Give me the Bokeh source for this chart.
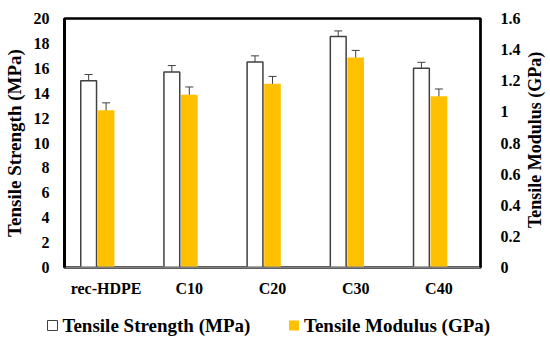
import math
from bokeh.plotting import figure
from bokeh.layouts import column, row
from bokeh.core.properties import value
from bokeh.models import (ColumnDataSource, FactorRange, Range1d, LinearAxis, FixedTicker,
                          Whisker, TeeHead)
from bokeh.transform import dodge
from bokeh.embed import file_html
from bokeh.resources import INLINE

categories = ["rec-HDPE", "C10", "C20", "C30", "C40"]
strength = [15.0, 15.7, 16.5, 18.55, 16.0]
strength_err = [0.5, 0.52, 0.5, 0.45, 0.48]
modulus = [1.01, 1.11, 1.18, 1.35, 1.10]
modulus_err = [0.048, 0.05, 0.048, 0.045, 0.047]
left_ticks = [0, 2, 4, 6, 8, 10, 12, 14, 16, 18, 20]
right_ticks = [0, 0.2, 0.4, 0.6, 0.8, 1.0, 1.2, 1.4, 1.6]
right_tick_labels = ["0", "0.2", "0.4", "0.6", "0.8", "1", "1.2", "1.4", "1.6"]
series_names = ["Tensile Strength (MPa)", "Tensile Modulus (GPa)"]
left_title = "Tensile Strength (MPa)"
right_title = "Tensile Modulus (GPa)"

FONT = "Liberation Serif"
EDGE = "#404040"
GOLD = "#FFC000"

src = ColumnDataSource(dict(
    cats=categories,
    s=strength,
    s_up=[v + e for v, e in zip(strength, strength_err)],
    s_lo=[v - e for v, e in zip(strength, strength_err)],
    m=modulus,
    m_up=[v + e for v, e in zip(modulus, modulus_err)],
    m_lo=[v - e for v, e in zip(modulus, modulus_err)],
))

p = figure(frame_width=416, frame_height=249, output_backend="svg", toolbar_location=None,
           x_range=FactorRange(*categories, range_padding=0),
           y_range=Range1d(0, 20),
           min_border_left=56, min_border_right=39, min_border_top=18, min_border_bottom=30)
p.extra_y_ranges = {"mod": Range1d(0, 1.6)}
p.xgrid.visible = False
p.ygrid.visible = False
p.outline_line_color = "black"
p.outline_line_width = 2.5
p.background_fill_color = "white"
p.border_fill_color = "white"

r1 = p.vbar(x=dodge("cats", -0.21, range=p.x_range), top="s", width=0.19, source=src,
            fill_color="white", line_color=EDGE, line_width=1.5)
r2 = p.vbar(x=dodge("cats", 0.0, range=p.x_range), top="m", width=0.2, source=src,
            fill_color=GOLD, line_color=None, y_range_name="mod")

w1 = Whisker(base=dodge("cats", -0.21, range=p.x_range), upper="s_up", lower="s_lo", source=src,
             line_color=EDGE, line_width=1,
             upper_head=TeeHead(size=8, line_color=EDGE, line_width=1),
             lower_head=TeeHead(size=8, line_color=EDGE, line_width=1))
w2 = Whisker(base=dodge("cats", 0.0, range=p.x_range), upper="m_up", lower="m_lo", source=src,
             y_range_name="mod", line_color=EDGE, line_width=1,
             upper_head=TeeHead(size=8, line_color=EDGE, line_width=1),
             lower_head=TeeHead(size=8, line_color=EDGE, line_width=1))
p.add_layout(w1)
p.add_layout(w2)

def style_axis(ax):
    ax.major_tick_line_color = None
    ax.minor_tick_line_color = None
    ax.major_label_text_font = FONT
    ax.major_label_text_font_style = "bold"
    ax.major_label_text_font_size = "16px"
    ax.major_label_text_color = "black"
    ax.axis_label_text_font = FONT
    ax.axis_label_text_font_style = "bold"
    ax.axis_label_text_font_size = "19px"
    ax.axis_label_text_color = "black"

xa = p.xaxis[0]
style_axis(xa)
xa.axis_line_color = "#808080"
xa.axis_line_width = 2
xa.major_label_standoff = 6

ya = p.yaxis[0]
style_axis(ya)
ya.ticker = FixedTicker(ticks=left_ticks)
ya.axis_line_color = "black"
ya.axis_line_width = 3
ya.axis_label = left_title
ya.major_label_standoff = 9
ya.axis_label_standoff = 6

ra = LinearAxis(y_range_name="mod")
style_axis(ra)
ra.ticker = FixedTicker(ticks=right_ticks)
ra.major_label_overrides = dict(zip(right_ticks, right_tick_labels))
ra.axis_line_color = "black"
ra.axis_line_width = 2
ra.major_label_standoff = 14
p.add_layout(ra, "right")

# right-hand axis title strip (reads bottom-to-top like the reference)
tf = figure(width=23, height=297, output_backend="svg", toolbar_location=None,
            x_range=Range1d(0, 23), y_range=Range1d(0, 297),
            x_axis_location=None, y_axis_location=None,
            min_border_left=0, min_border_right=0, min_border_top=0, min_border_bottom=0)
tf.xgrid.visible = False
tf.ygrid.visible = False
tf.outline_line_color = None
tf.text(x=[11.5], y=[151], text=[right_title], angle=math.pi / 2,
        text_font=value(FONT), text_font_style="bold", text_font_size="18px",
        text_color="black", text_align="center", text_baseline="middle")

# legend strip below the chart
lf = figure(width=534, height=38, output_backend="svg", toolbar_location=None,
            x_range=Range1d(0, 534), y_range=Range1d(0, 38),
            x_axis_location=None, y_axis_location=None,
            min_border_left=0, min_border_right=0, min_border_top=0, min_border_bottom=0)
lf.xgrid.visible = False
lf.ygrid.visible = False
lf.outline_line_color = None
lf.scatter(x=[52], y=[12], marker="square", size=10, fill_color="white",
           line_color=EDGE, line_width=1)
lf.scatter(x=[293.5], y=[12], marker="square", size=10, fill_color=GOLD, line_color=None)
lf.text(x=[62, 303.5], y=[12, 12], text=series_names,
        text_font=value(FONT), text_font_style="bold", text_font_size="19px",
        text_color="black", text_align="left", text_baseline="middle")

layout = column(row(p, tf, spacing=0), lf, spacing=0)
open("out.html", "w").write(file_html(layout, INLINE))
